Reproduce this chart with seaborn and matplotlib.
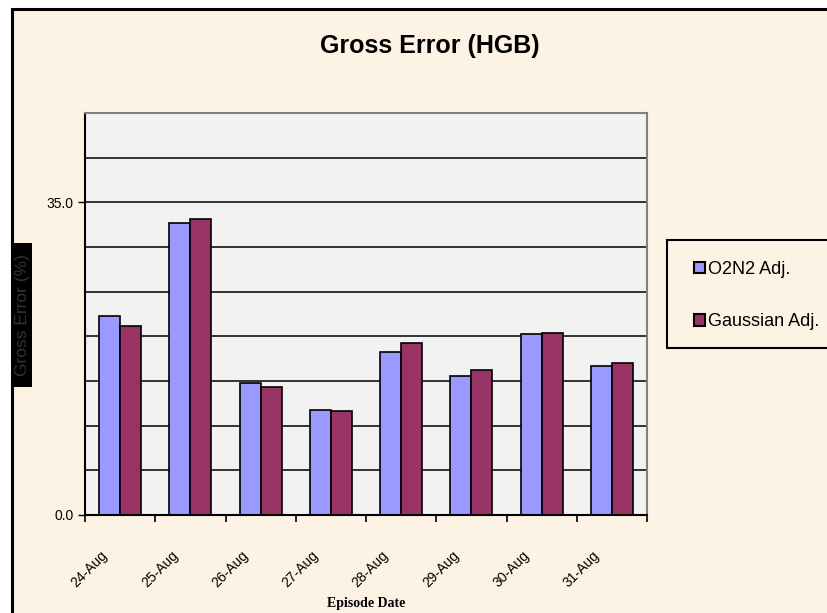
import pandas as pd
import numpy as np
import matplotlib.pyplot as plt
import seaborn as sns
from matplotlib.patches import Rectangle

# data
dates = ["24-Aug", "25-Aug", "26-Aug", "27-Aug", "28-Aug", "29-Aug", "30-Aug", "31-Aug"]
o2n2_adj = [22.3, 32.7, 14.8, 11.8, 18.3, 15.6, 20.3, 16.7]
gaussian_adj = [21.2, 33.1, 14.3, 11.6, 19.3, 16.2, 20.4, 17.0]
series_names = ["O2N2 Adj.", "Gaussian Adj."]
y_ticks = [0, 35]

df = pd.DataFrame({
    "date": dates * 2,
    "value": o2n2_adj + gaussian_adj,
    "series": [series_names[0]] * len(dates) + [series_names[1]] * len(dates),
})

sns.set_style("white")
plt.rcParams["font.family"] = ["Liberation Sans", "DejaVu Sans"]
for key in ["text.color", "axes.labelcolor", "xtick.color", "ytick.color"]:
    plt.rcParams[key] = "black"

W, H = 827, 613
bg = "#FDF3E5"
fig = plt.figure(figsize=(W / 100, H / 100), dpi=100, facecolor="white")

# chart area with the thick black frame (clipped at right and bottom)
fig.patches.append(Rectangle((12 / W, -0.05), 1.1, 1 - 9 / H + 0.05,
                             transform=fig.transFigure, facecolor=bg,
                             edgecolor="black", lw=2.2, zorder=-10))

ax = fig.add_axes([85 / W, 1 - 515 / H, 562 / W, 402 / H])
ax.set_facecolor("#F2F2F2")

# gridlines every 5
for v in np.arange(5, 45, 5):
    ax.axhline(v, color="black", lw=1.1, zorder=0)

sns.barplot(data=df, x="date", y="value", hue="series",
            palette=["#9999FF", "#993366"], saturation=1, width=0.6,
            edgecolor="black", linewidth=1.2, ax=ax, zorder=2)

ax.set_ylim(0, 45)
ax.set_xlim(-0.5, len(dates) - 0.5)
ax.set_yticks(y_ticks)
ax.set_yticklabels([f"{t:.1f}" for t in y_ticks], fontsize=10)
ax.tick_params(axis="y", direction="out", length=5, width=1, left=True, pad=3)

ax.set_xticks(np.arange(len(dates)) - 0.28)
ax.set_xticklabels(dates, rotation=45, ha="right", rotation_mode="anchor",
                   fontsize=10)
ax.set_xticks(np.arange(-0.5, len(dates), 1), minor=True)
ax.tick_params(axis="x", which="major", length=0, pad=24)
ax.tick_params(axis="x", which="minor", direction="out", length=5, width=1.2,
               bottom=True)

for s in ["left", "bottom"]:
    ax.spines[s].set_color("black")
    ax.spines[s].set_linewidth(1.5)
for s in ["top", "right"]:
    ax.spines[s].set_color("#808080")
    ax.spines[s].set_linewidth(1.5)

ax.set_xlabel("")
ax.set_ylabel("")
fig.text(366 / W, 1 - 604 / H, "Episode Date", ha="center", va="center",
         family=["Liberation Serif", "DejaVu Serif"], fontweight="bold", fontsize=10)

fig.text(430 / W, 1 - 46 / H, "Gross Error (HGB)", ha="center", va="center",
         fontsize=18, fontweight="bold")

# y axis title: rendered as a dark block in the reference
fig.patches.append(Rectangle((13 / W, 1 - 387 / H), 19 / W, 144 / H,
                             transform=fig.transFigure, facecolor="black",
                             edgecolor="none", zorder=1))
fig.text(22.5 / W, 1 - 315 / H, "Gross Error (%)", rotation=90, ha="center",
         va="center", fontsize=12.5, color="#333333", zorder=2)

# legend box drawn separately (below the axes layer), entries placed inside it
fig.patches.append(Rectangle((667 / W, 1 - 348 / H), 170 / W, 108 / H,
                             transform=fig.transFigure, facecolor=bg,
                             edgecolor="black", lw=1.5, zorder=-5))
leg = ax.legend(loc="upper left", bbox_to_anchor=(694 / W, 1 - 261 / H),
                bbox_transform=fig.transFigure, frameon=False, fontsize=13,
                handlelength=0.6, handleheight=0.6, handletextpad=0.15,
                labelspacing=1.95, borderpad=0, borderaxespad=0)
for h in leg.legend_handles:
    h.set_edgecolor("black")
    h.set_linewidth(1.5)

fig.savefig("out.png", dpi=100, facecolor="white")
